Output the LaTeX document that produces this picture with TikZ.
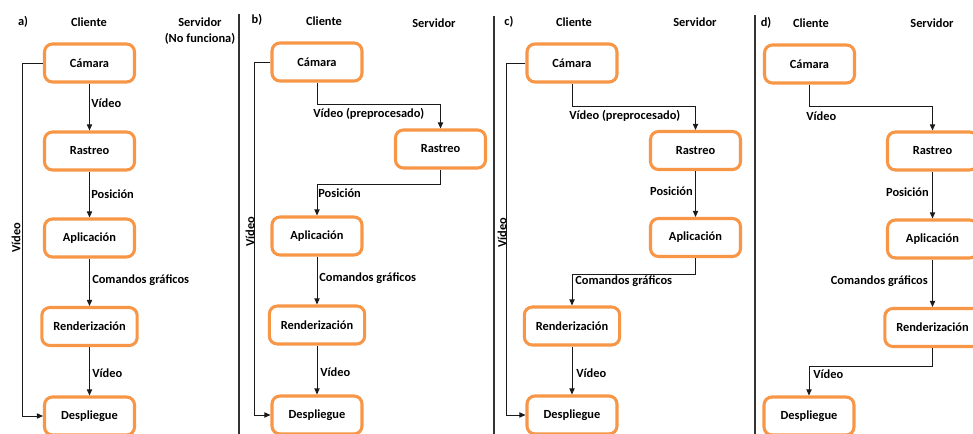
\documentclass[tikz,border=0pt]{standalone}
\usepackage{fontspec}
\setmainfont{Carlito}
\usetikzlibrary{arrows.meta}
\definecolor{boxorange}{HTML}{F79646}
\definecolor{linegray}{HTML}{1A1A1A}
\begin{document}
\begin{tikzpicture}[x=0.75pt,y=-0.75pt,
  every node/.style={font=\fontsize{9.3}{11}\selectfont\bfseries, inner sep=0pt},
  procbox/.style={draw=boxorange, line width=2.3pt, rounded corners=6pt, fill=white,
                  minimum width=67.5pt, minimum height=28.5pt},
  widebox/.style={procbox, minimum width=71.5pt},
  conn/.style={draw=linegray, line width=0.7pt, -{Triangle[length=4.6pt,width=4pt]}},
  sep/.style={draw=black!80, line width=0.8pt}]
\useasboundingbox (0,0) rectangle (973,434);

% separators
\coordinate (s1t) at (239,14);  \coordinate (s1b) at (239,434);
\coordinate (s2t) at (494,16);  \coordinate (s2b) at (494,434);
\coordinate (s3t) at (755,15);  \coordinate (s3b) at (755,434);
\draw[sep] (s1t) -- (s1b);
\draw[sep] (s2t) -- (s2b);
\draw[sep] (s3t) -- (s3b);

% ---------------- panel a ----------------
\node (ha) at (23,22) {a)};
\node (hca) at (89,22) {Cliente};
\node (hsa) at (200,22) {Servidor};
\node (hsa2) at (200,39) {(No funciona)};
\node[procbox] (camA) at (89.5,63) {Cámara};
\node[procbox] (rasA) at (89.5,151) {Rastreo};
\node[procbox] (aplA) at (89.5,238) {Aplicación};
\node[widebox] (renA) at (89.5,326.5) {Renderización};
\node[procbox] (desA) at (89.5,416) {Despliegue};
\draw[conn] (camA.south) -- (rasA.north);
\draw[conn] (rasA.south) -- (aplA.north);
\draw[conn] (aplA.south) -- (renA.north);
\draw[conn] (renA.south) -- (desA.north);
\draw[conn] (camA.west) -- ++(-21,0) |- (desA.west);
\node[anchor=west] (la1) at (91,103) {Vídeo};
\node[anchor=west] (la2) at (91,194) {Posición};
\node[anchor=west] (la3) at (92,280) {Comandos gráficos};
\node[anchor=west] (la4) at (92,373) {Vídeo};
\node[rotate=90] (la5) at (16,238) {Vídeo};

% ---------------- panel b ----------------
\node (hb) at (257,20) {b)};
\node (hcb) at (324,21) {Cliente};
\node (hsb) at (434,23) {Servidor};
\node[procbox] (camB) at (317,62) {Cámara};
\node[procbox] (rasB) at (440.5,149) {Rastreo};
\node[procbox] (aplB) at (317,236) {Aplicación};
\node[widebox] (renB) at (317,325) {Renderización};
\node[procbox] (desB) at (317,415) {Despliegue};
\draw[conn] (camB.south) -- ++(0,22) -| (rasB.north);
\draw[conn] (rasB.south) -- ++(0,15) -| (aplB.north);
\draw[conn] (aplB.south) -- (renB.north);
\draw[conn] (renB.south) -- (desB.north);
\draw[conn] (camB.west) -- ++(-16,0) |- (desB.west);
\node[anchor=west] (lb1) at (313,114) {Vídeo (preprocesado)};
\node[anchor=west] (lb2) at (318,193) {Posición};
\node[anchor=west] (lb3) at (319,278) {Comandos gráficos};
\node[anchor=west] (lb4) at (320,372) {Vídeo};
\node[rotate=90] (lb5) at (250,232) {Vídeo};

% ---------------- panel c ----------------
\node (hc) at (509,22) {c)};
\node (hcc) at (574,22) {Cliente};
\node (hsc) at (695,22) {Servidor};
\node[procbox] (camC) at (572,63) {Cámara};
\node[procbox] (rasC) at (695.5,150.5) {Rastreo};
\node[procbox] (aplC) at (695.5,237.5) {Aplicación};
\node[widebox] (renC) at (572,326) {Renderización};
\node[procbox] (desC) at (572,415) {Despliegue};
\draw[conn] (camC.south) -- ++(0,23) -| (rasC.north);
\draw[conn] (rasC.south) -- (aplC.north);
\draw[conn] (aplC.south) -- ++(0,16) -| (renC.north);
\draw[conn] (renC.south) -- (desC.north);
\draw[conn] (camC.west) -- ++(-19,0) |- (desC.west);
\node[anchor=west] (lc1) at (569,116) {Vídeo (preprocesado)};
\node[anchor=east] (lc2) at (693,191) {Posición};
\node[anchor=west] (lc3) at (575,281) {Comandos gráficos};
\node[anchor=west] (lc4) at (576,373) {Vídeo};
\node[rotate=90] (lc5) at (502,233) {Vídeo};

% ---------------- panel d ----------------
\node (hd) at (766,23) {d)};
\node (hcd) at (811,23) {Cliente};
\node (hsd) at (932,23) {Servidor};
\node[procbox] (camD) at (809.5,64) {Cámara};
\node[procbox] (rasD) at (932.5,151) {Rastreo};
\node[procbox] (aplD) at (932.5,239) {Aplicación};
\node[widebox] (renD) at (932.5,327.5) {Renderización};
\node[procbox] (desD) at (809,416) {Despliegue};
\draw[conn] (camD.south) -- ++(0,22) -| (rasD.north);
\draw[conn] (rasD.south) -- (aplD.north);
\draw[conn] (aplD.south) -- (renD.north);
\draw[conn] (renD.south) -- ++(0,18) -| (desD.north);
\node[anchor=west] (ld1) at (806,116) {Vídeo};
\node[anchor=east] (ld2) at (929,192) {Posición};
\node[anchor=east] (ld3) at (928,281) {Comandos gráficos};
\node[anchor=west] (ld4) at (813,374) {Vídeo};
\end{tikzpicture}
\end{document}
